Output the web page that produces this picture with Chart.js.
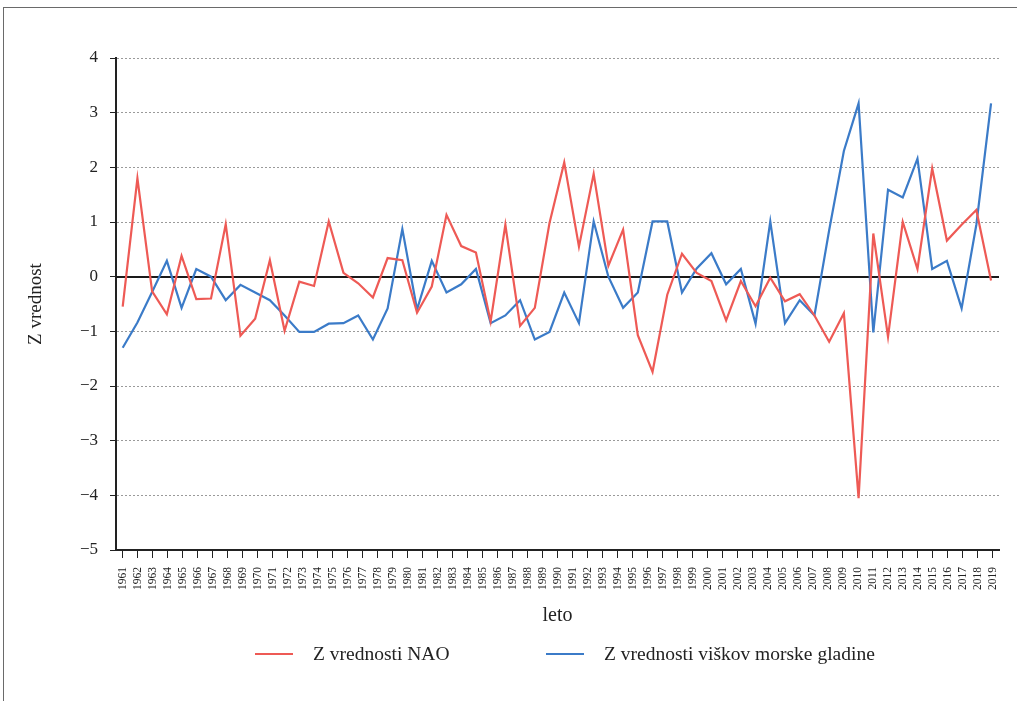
<!DOCTYPE html>
<html>
<head>
<meta charset="utf-8">
<script src="https://cdn.jsdelivr.net/npm/chart.js@4.4.1/dist/chart.umd.min.js"></script>
<style>
  html, body { margin: 0; padding: 0; background: #fff; }
  body { width: 1017px; height: 701px; position: relative; overflow: hidden; }
  .frame { position: absolute; left: 3px; top: 7px; width: 1100px; height: 800px; border: 1px solid #6a6a6a; }
  #chart { position: absolute; left: 0; top: 0; }
  #legend { position: absolute; left: 0; top: 642px; width: 1017px; height: 24px;
            font-family: "Liberation Serif", "DejaVu Serif", serif; font-size: 19.5px; line-height: 24px; color: #222; }
  #legend .item { position: absolute; top: 0; display: flex; align-items: center; white-space: nowrap; }
  #legend .swatch { width: 38px; height: 2.5px; margin-right: 20px; }
</style>
</head>
<body>
<div class="frame"></div>
<canvas id="chart" width="1017" height="701"></canvas>
<div id="legend"></div>
<script>
// tick labels on the x axis
const years = [1961, 1962, 1963, 1964, 1965, 1966, 1967, 1968, 1969, 1970,
  1971, 1972, 1973, 1974, 1975, 1976, 1977, 1978, 1979, 1980,
  1981, 1982, 1983, 1984, 1985, 1986, 1987, 1988, 1989, 1990,
  1991, 1992, 1993, 1994, 1995, 1996, 1997, 1998, 1999, 2000,
  2001, 2002, 2003, 2004, 2005, 2006, 2007, 2008, 2009, 2010,
  2011, 2012, 2013, 2014, 2015, 2016, 2017, 2018, 2019];

// both lines in the original have 60 vertices spread over the 1961-2019 axis
const nao = [-0.55, 1.80, -0.27, -0.69, 0.38, -0.41, -0.40, 0.96, -1.08, -0.77,
  0.30, -0.99, -0.09, -0.17, 1.01, 0.07, -0.12, -0.38, 0.34, 0.30,
  -0.66, -0.18, 1.13, 0.56, 0.44, -0.82, 0.95, -0.90, -0.57, 0.98,
  2.09, 0.55, 1.88, 0.20, 0.86, -1.07, -1.74, -0.33, 0.42, 0.07,
  -0.08, -0.80, -0.08, -0.54, -0.02, -0.45, -0.32, -0.71, -1.19, -0.67,
  -4.05, 0.79, -1.10, 1.00, 0.14, 1.98, 0.66, 0.95, 1.22, -0.07];

const seaLevel = [-1.30, -0.84, -0.28, 0.29, -0.57, 0.14, 0.00, -0.43, -0.15, -0.29,
  -0.43, -0.71, -1.01, -1.01, -0.86, -0.85, -0.71, -1.15, -0.58, 0.87,
  -0.60, 0.29, -0.29, -0.14, 0.14, -0.85, -0.71, -0.43, -1.15, -1.01,
  -0.29, -0.85, 1.01, 0.00, -0.57, -0.29, 1.01, 1.01, -0.29, 0.15,
  0.43, -0.14, 0.14, -0.86, 1.01, -0.85, -0.43, -0.71, 0.85, 2.30,
  3.17, -1.02, 1.59, 1.45, 2.16, 0.14, 0.29, -0.58, 0.95, 3.17];

const yMin = -5, yMax = 4;

const RED = '#ee5a55';
const BLUE = '#3b7bc8';
const INK = '#222';
const FONT = "'Liberation Serif', 'DejaVu Serif', serif";

const toPoints = arr => arr.map((v, i) => ({ x: i, y: v }));

// solid black line at zero, under the data
const zeroLine = {
  id: 'zeroLine',
  beforeDatasetsDraw(chart) {
    const { ctx, chartArea: a, scales: { y } } = chart;
    const py = Math.round(y.getPixelForValue(0));
    ctx.save();
    ctx.strokeStyle = '#1a1a1a';
    ctx.lineWidth = 2;
    ctx.beginPath();
    ctx.moveTo(a.left, py);
    ctx.lineTo(a.right, py);
    ctx.stroke();
    ctx.restore();
  }
};

const chart = new Chart(document.getElementById('chart'), {
  type: 'line',
  data: {
    datasets: [
      { label: 'Z vrednosti NAO', data: toPoints(nao), borderColor: RED, backgroundColor: RED,
        borderWidth: 2.2, pointRadius: 0, tension: 0, xAxisID: 'xd' },
      { label: 'Z vrednosti viškov morske gladine', data: toPoints(seaLevel), borderColor: BLUE, backgroundColor: BLUE,
        borderWidth: 2.2, pointRadius: 0, tension: 0, xAxisID: 'xd' }
    ]
  },
  options: {
    responsive: false,
    animation: false,
    layout: { padding: { top: 58, right: 18, bottom: 51, left: 0 } },
    plugins: { legend: { display: false }, tooltip: { enabled: false } },
    scales: {
      x: {
        type: 'linear', position: 'bottom', min: -0.447, max: 58.42,
        afterBuildTicks: s => { s.ticks = years.map((_, i) => ({ value: i })); },
        afterFit: s => { s.height = 100; },
        ticks: { autoSkip: false, minRotation: 90, maxRotation: 90, padding: 9, color: INK,
                 font: { family: FONT, size: 11.5 }, callback: v => years[v] },
        grid: { drawOnChartArea: false, drawTicks: true, tickLength: 8, tickColor: INK, tickWidth: 1 },
        border: { display: true, color: INK, width: 2 },
        title: { display: true, text: 'leto', color: INK, font: { family: FONT, size: 20 },
                 padding: { top: 0, bottom: 22 } }
      },
      xd: { type: 'linear', display: false, min: -0.455, max: 59.54 },
      y: {
        min: yMin, max: yMax,
        afterFit: s => { s.width = 116; },
        ticks: { stepSize: 1, padding: 12, color: INK, font: { family: FONT, size: 17 },
                 callback: v => v < 0 ? '\u2212' + Math.abs(v) : String(v) },
        grid: { color: c => c.tick.value === 0 ? 'rgba(0,0,0,0)' : '#9a9a9a', lineWidth: 1,
                tickLength: 6, tickColor: INK, tickWidth: 1 },
        border: { display: true, color: INK, width: 2, dash: [2, 2] },
        title: { display: true, text: 'Z vrednost', color: INK, font: { family: FONT, size: 19 },
                 padding: { top: 25, bottom: 0 } }
      }
    }
  },
  plugins: [zeroLine]
});

// html legend with line samples, items placed where the original has them
const legendLeft = [255, 546];
const legend = document.getElementById('legend');
chart.data.datasets.forEach((ds, i) => {
  const item = document.createElement('div');
  item.className = 'item';
  item.style.left = legendLeft[i] + 'px';
  const sw = document.createElement('span');
  sw.className = 'swatch';
  sw.style.background = ds.borderColor;
  const tx = document.createElement('span');
  tx.textContent = ds.label;
  item.append(sw, tx);
  legend.append(item);
});
</script>
</body>
</html>
